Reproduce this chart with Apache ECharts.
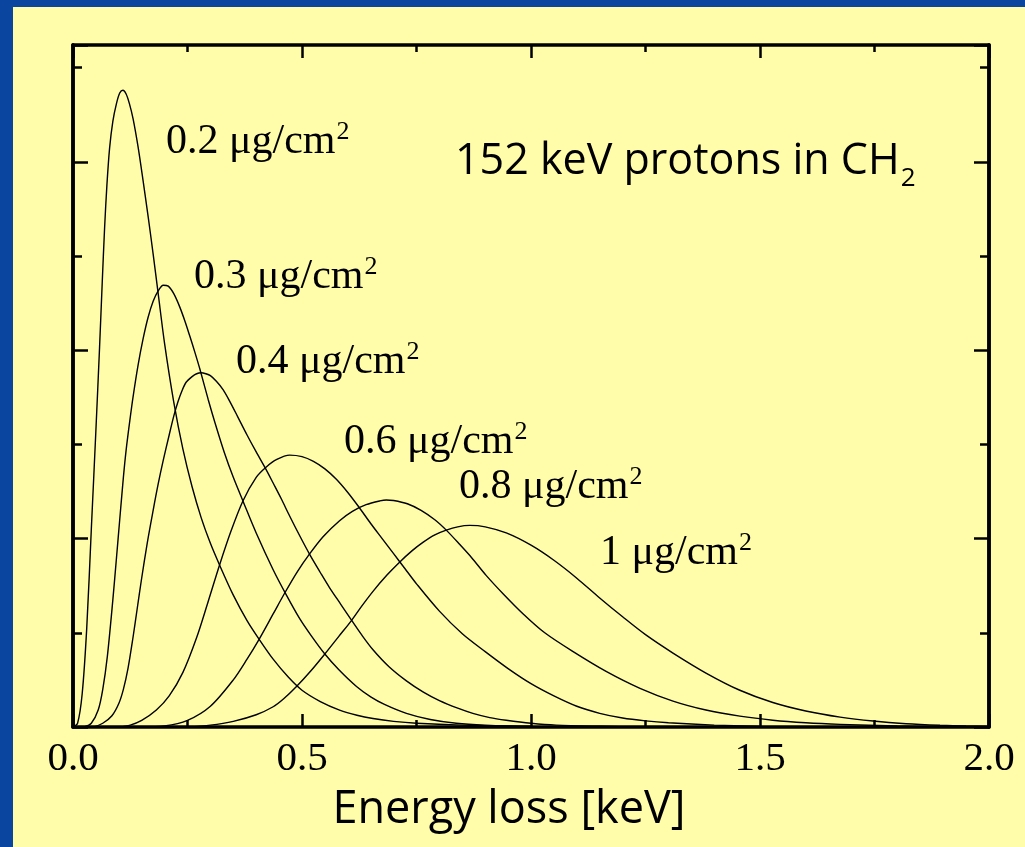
<!DOCTYPE html>
<html>
<head>
<meta charset="utf-8">
<script src="https://cdn.jsdelivr.net/npm/echarts@6/dist/echarts.min.js"></script>
<style>
html,body{margin:0;padding:0;background:#0a46a0;width:1025px;height:847px;overflow:hidden;}
#main{position:absolute;left:13px;top:7px;width:1012px;height:840px;}
</style>
</head>
<body>
<div id="main"></div>
<script>
// ---- data (x: energy loss keV, y: relative intensity, arbitrary units) ----
const curve02 = [[0.000,0],[0.010,0.04],[0.020,0.35],[0.030,1.05],[0.040,2.10],[0.050,3.15],[0.058,4.03],[0.064,4.74],[0.069,5.30],[0.074,5.75],[0.080,6.15],[0.087,6.43],[0.095,6.62],[0.102,6.73],[0.109,6.76],[0.116,6.72],[0.123,6.62],[0.131,6.46],[0.142,6.16],[0.153,5.80],[0.164,5.42],[0.175,5.02],[0.186,4.60],[0.200,4.07],[0.220,3.45],[0.240,2.95],[0.260,2.55],[0.280,2.22],[0.300,1.95],[0.320,1.72],[0.350,1.40],[0.380,1.13],[0.408,0.92],[0.437,0.72],[0.470,0.53],[0.500,0.39],[0.540,0.27],[0.582,0.18],[0.620,0.125],[0.655,0.09],[0.700,0.06],[0.750,0.04],[0.850,0.02],[1.000,0.005],[1.200,0]];
const curve03 = [[0.025,0],[0.040,0.04],[0.055,0.18],[0.065,0.40],[0.075,0.75],[0.087,1.35],[0.095,1.80],[0.102,2.20],[0.110,2.65],[0.116,2.94],[0.124,3.25],[0.131,3.50],[0.142,3.84],[0.153,4.12],[0.164,4.35],[0.175,4.52],[0.186,4.63],[0.197,4.69],[0.208,4.68],[0.220,4.60],[0.233,4.46],[0.245,4.30],[0.255,4.15],[0.266,3.98],[0.277,3.80],[0.295,3.48],[0.310,3.23],[0.330,2.92],[0.350,2.65],[0.371,2.40],[0.400,2.06],[0.437,1.67],[0.466,1.40],[0.495,1.15],[0.520,0.97],[0.549,0.78],[0.580,0.61],[0.619,0.43],[0.650,0.32],[0.680,0.24],[0.728,0.145],[0.780,0.08],[0.837,0.04],[0.900,0.02],[1.000,0.005],[1.100,0]];
const curve04 = [[0.045,0],[0.065,0.04],[0.085,0.12],[0.100,0.25],[0.110,0.40],[0.120,0.62],[0.131,0.95],[0.140,1.25],[0.149,1.55],[0.162,1.95],[0.175,2.30],[0.186,2.58],[0.197,2.83],[0.210,3.10],[0.220,3.30],[0.229,3.45],[0.238,3.57],[0.247,3.66],[0.260,3.72],[0.270,3.75],[0.280,3.76],[0.290,3.75],[0.300,3.73],[0.313,3.67],[0.328,3.58],[0.342,3.46],[0.360,3.29],[0.380,3.10],[0.400,2.92],[0.422,2.73],[0.437,2.59],[0.455,2.42],[0.473,2.24],[0.495,2.03],[0.517,1.83],[0.540,1.64],[0.560,1.48],[0.585,1.30],[0.608,1.135],[0.630,0.98],[0.655,0.82],[0.690,0.64],[0.728,0.49],[0.765,0.37],[0.800,0.28],[0.840,0.20],[0.873,0.145],[0.910,0.10],[0.946,0.072],[1.000,0.04],[1.055,0.02],[1.150,0.008],[1.250,0]];
const curve06 = [[0.100,0],[0.125,0.02],[0.150,0.07],[0.182,0.18],[0.210,0.33],[0.240,0.58],[0.270,0.95],[0.295,1.33],[0.320,1.72],[0.345,2.08],[0.371,2.40],[0.400,2.65],[0.422,2.76],[0.445,2.84],[0.473,2.886],[0.500,2.87],[0.525,2.82],[0.550,2.74],[0.575,2.63],[0.600,2.49],[0.625,2.33],[0.650,2.16],[0.675,2.00],[0.700,1.84],[0.725,1.68],[0.750,1.52],[0.800,1.23],[0.850,0.99],[0.900,0.80],[0.950,0.62],[1.000,0.46],[1.050,0.33],[1.100,0.22],[1.150,0.145],[1.200,0.095],[1.250,0.065],[1.300,0.045],[1.400,0.02],[1.500,0.005]];
const curve08 = [[0.150,0],[0.200,0.01],[0.250,0.07],[0.300,0.22],[0.350,0.50],[0.380,0.72],[0.405,0.92],[0.437,1.20],[0.462,1.42],[0.490,1.65],[0.517,1.84],[0.546,2.02],[0.582,2.19],[0.610,2.29],[0.640,2.36],[0.670,2.40],[0.684,2.41],[0.700,2.405],[0.730,2.37],[0.760,2.30],[0.790,2.20],[0.815,2.09],[0.844,1.94],[0.870,1.80],[0.902,1.61],[0.940,1.41],[0.983,1.20],[1.030,1.00],[1.092,0.80],[1.164,0.59],[1.238,0.41],[1.310,0.275],[1.382,0.18],[1.456,0.115],[1.528,0.072],[1.600,0.045],[1.675,0.028],[1.800,0.01],[1.900,0]];
const curve10 = [[0.250,0],[0.300,0.02],[0.350,0.06],[0.400,0.13],[0.437,0.215],[0.460,0.30],[0.488,0.43],[0.520,0.60],[0.549,0.77],[0.580,0.96],[0.608,1.13],[0.630,1.28],[0.655,1.44],[0.685,1.61],[0.713,1.75],[0.740,1.87],[0.764,1.96],[0.790,2.04],[0.815,2.09],[0.840,2.125],[0.866,2.14],[0.900,2.125],[0.946,2.06],[1.000,1.93],[1.050,1.77],[1.100,1.58],[1.150,1.37],[1.200,1.17],[1.250,0.98],[1.310,0.785],[1.382,0.573],[1.456,0.39],[1.528,0.26],[1.600,0.17],[1.675,0.105],[1.747,0.063],[1.819,0.035],[1.893,0.018],[1.950,0.01],[2.000,0.005]];
const curveNames = ['0.2', '0.3', '0.4', '0.6', '0.8', '1'];
const curves = [curve02, curve03, curve04, curve06, curve08, curve10];
const xMin = 0, xMax = 2, xStep = 0.5;
const yMin = 0, yMax = 7.24;
const titleText = '152 keV protons in CH';
const titleSub = '2';
const unitText = ' μg/cm';
const unitSup = '2';
const xAxisTitle = 'Energy loss [keV]';

const chart = echarts.init(document.getElementById('main'), null, {renderer: 'canvas'});
const serif = "'Liberation Serif', 'Times New Roman', serif";
const comic = "'Comic Sans MS', 'Open Sans', sans-serif";
const frame = {show: true, onZero: false, lineStyle: {color: '#000', width: 3.5}};
const mctx = document.createElement('canvas').getContext('2d');
function textW(t, font) { mctx.font = font; return mctx.measureText(t).width; }

function xAx(pos, showLabel, len, mlen) {
  return {
    type: 'value', position: pos, min: xMin, max: xMax, interval: xStep,
    axisLine: frame,
    axisTick: {show: true, inside: true, length: len, lineStyle: {color: '#000', width: 2.5}},
    minorTick: {show: true, splitNumber: 2, length: mlen, lineStyle: {color: '#000', width: 2.5}},
    splitLine: {show: false}, minorSplitLine: {show: false},
    axisLabel: {show: showLabel, formatter: v => v.toFixed(1), fontFamily: serif, fontSize: 41, color: '#000', margin: 12}
  };
}
function yAx(pos, interval, len) {
  return {
    type: 'value', position: pos, min: yMin, max: yMax, interval: interval,
    axisLine: frame,
    axisTick: {show: true, inside: true, length: len, lineStyle: {color: '#000', width: 2.5}},
    splitLine: {show: false}, axisLabel: {show: false}
  };
}

const labelFont = '42px ' + serif;
const supFont = '26px ' + serif;
const labelPos = [[153, 135], [181, 270], [223, 355], [331, 435], [446, 480], [587, 546]];
const graphics = [];
curveNames.forEach((n, i) => {
  const main = n + unitText;
  const w = textW(main, labelFont);
  graphics.push({type: 'text', x: labelPos[i][0], y: labelPos[i][1],
    style: {text: main, font: labelFont, fill: '#000', textVerticalAlign: 'middle', textAlign: 'left'}});
  graphics.push({type: 'text', x: labelPos[i][0] + w + 1, y: labelPos[i][1] - 10,
    style: {text: unitSup, font: supFont, fill: '#000', textVerticalAlign: 'middle', textAlign: 'left'}});
});
const titleFont = '43px ' + comic;
const tW = textW(titleText, titleFont);
graphics.push({type: 'text', x: 442, y: 155,
  style: {text: titleText, font: titleFont, fill: '#000', textVerticalAlign: 'middle', textAlign: 'left'}});
graphics.push({type: 'text', x: 442 + tW + 1, y: 172,
  style: {text: titleSub, font: '26px ' + comic, fill: '#000', textVerticalAlign: 'middle', textAlign: 'left'}});
graphics.push({type: 'text', x: 496, y: 803,
  style: {text: xAxisTitle, font: '45px ' + comic, fill: '#000', textAlign: 'center', textVerticalAlign: 'middle'}});

chart.setOption({
  backgroundColor: '#FFFDAA',
  animation: false,
  grid: {left: 60, top: 38, right: 36, bottom: 120, containLabel: false},
  xAxis: [xAx('bottom', true, 13, 7), xAx('top', false, 13, 7)],
  yAxis: [yAx('left', 2, 15), yAx('left', 1, 9), yAx('right', 2, 15), yAx('right', 1, 9)],
  graphic: graphics,
  series: curves.map((c, i) => ({
    name: curveNames[i], type: 'line', data: c, xAxisIndex: 0, yAxisIndex: 0,
    showSymbol: false, symbol: 'none', smooth: 0.3, clip: true,
    lineStyle: {color: '#000', width: 1.4}
  }))
});
</script>
</body>
</html>
